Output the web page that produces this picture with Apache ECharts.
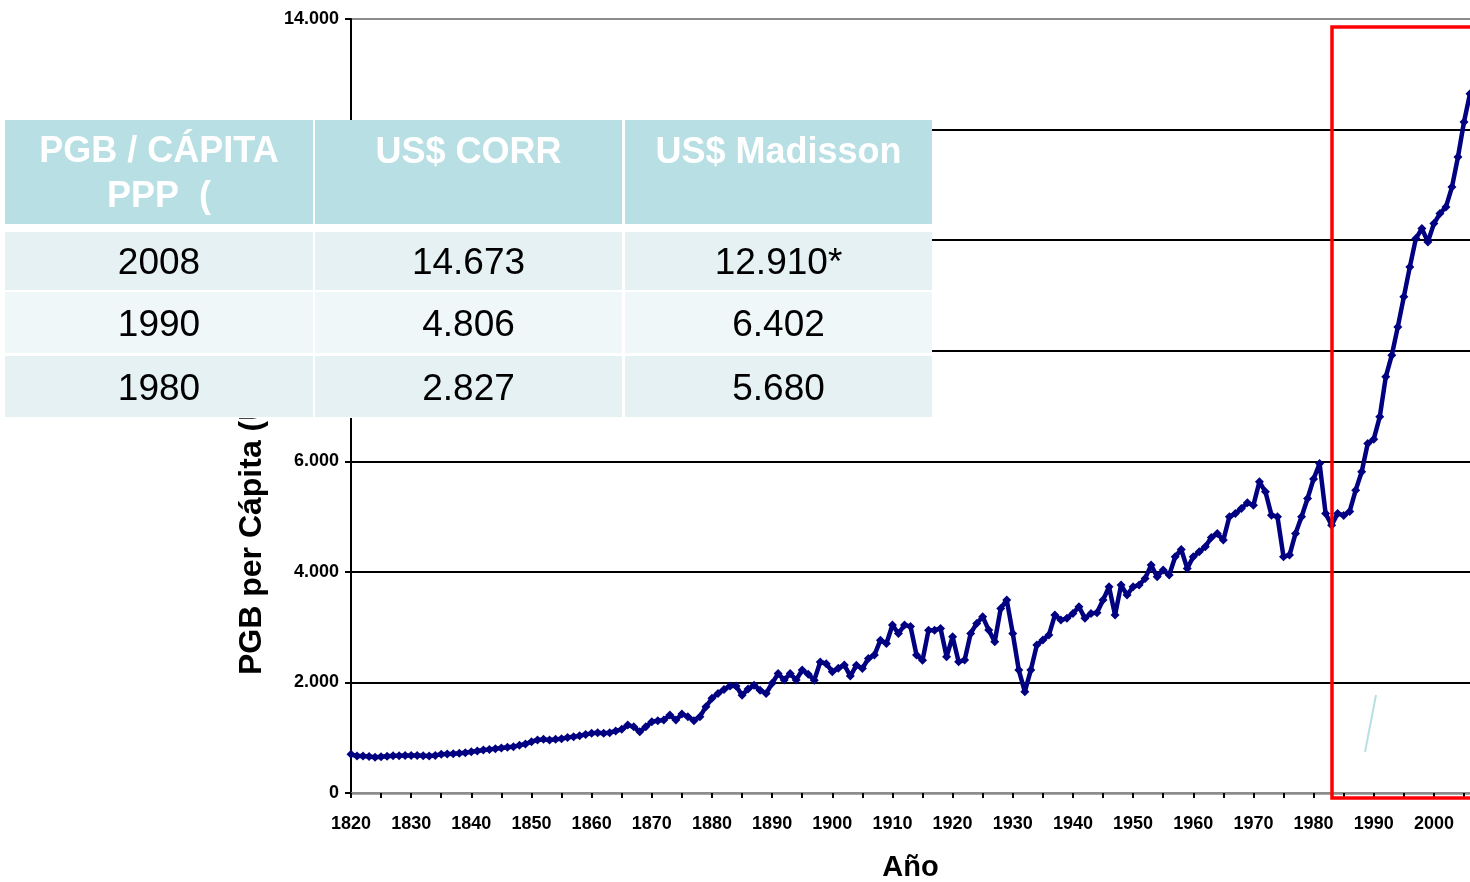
<!DOCTYPE html>
<html>
<head>
<meta charset="utf-8">
<script src="https://cdn.jsdelivr.net/npm/echarts@6.0.0/dist/echarts.min.js"></script>
<style>
html,body{margin:0;padding:0;background:#fff;}
#chart{width:1470px;height:882px;}
</style>
</head>
<body>
<div id="chart"></div>
<script>
var firstYear = 1820;

// PGB per cápita, one value per year 1820-2006
var pgbPerCapita = [
    700, 670, 670, 660, 645, 655, 665, 675, 675, 680,          // 1820
    680, 680, 675, 670, 680, 700, 705, 710, 717, 729,          // 1830
    747, 759, 777, 789, 801, 813, 826, 838, 862, 886,          // 1840
    928, 958, 970, 958, 970, 982, 1006, 1018, 1036, 1060,      // 1850
    1079, 1091, 1079, 1091, 1121, 1151, 1229, 1199, 1109, 1199, // 1860
    1290, 1308, 1320, 1410, 1320, 1428, 1380, 1308, 1380, 1561, // 1870
    1712, 1802, 1874, 1935, 1935, 1770, 1880, 1950, 1860, 1800, // 1880
    1985, 2160, 2045, 2160, 2045, 2225, 2150, 2040, 2370, 2340, // 1890
    2195, 2255, 2315, 2115, 2310, 2250, 2435, 2495, 2765, 2705, // 1900
    3040, 2885, 3040, 3010, 2495, 2400, 2945, 2945, 2975, 2465, // 1910
    2826, 2374, 2404, 2886, 3068, 3189, 2947, 2736, 3339, 3490, // 1920
    2886, 2224, 1832, 2224, 2676, 2766, 2856, 3219, 3128, 3159, // 1930
    3249, 3369, 3159, 3249, 3261, 3490, 3731, 3219, 3761, 3581, // 1940
    3730, 3761, 3881, 4122, 3911, 4032, 3941, 4273, 4405, 4062, // 1950
    4273, 4363, 4454, 4622, 4695, 4574, 4996, 5056, 5147, 5249, // 1960
    5207, 5629, 5448, 5026, 4996, 4273, 4303, 4695, 4996, 5328, // 1970
    5680, 5961, 5056, 4845, 5056, 5020, 5092, 5478, 5810, 6322, // 1980
    6400, 6804, 7527, 7919, 8431, 8974, 9516, 10028, 10209, 9968, // 1990
    10299, 10480, 10601, 10960, 11505, 12137, 12650             // 2000
];

// table over the chart
var tableHeader = ['PGB / CÁPITA\nPPP  (', 'US$ CORR', 'US$ Madisson'];
var tableYears = ['2008', '1990', '1980'];
var usCorr = ['14.673', '4.806', '2.827'];
var usMadisson = ['12.910*', '6.402', '5.680'];

var years = [];
for (var i = 0; i < pgbPerCapita.length; i++) {
    years.push(String(firstYear + i));
}

var font = 'Liberation Sans, Arial, sans-serif';

function thousands(v) {
    return String(v).replace(/\B(?=(\d{3})+(?!\d))/g, '.');
}

// table graphic
var colX = [5, 315, 625];
var colW = [308, 307, 307];
var rowY = [232, 292, 356];
var rowH = [58, 61, 61];
var rowFill = ['#e5f1f3', '#f0f7f9', '#e5f1f3'];

var graphics = [];
graphics.push({
    type: 'text', x: 252, y: 675, rotation: Math.PI / 2, z: 1,
    style: { text: 'PGB per Cápita (US$ de 1990)', fill: '#000', font: 'bold 32px ' + font,
        textAlign: 'left', textVerticalAlign: 'middle' }
});
graphics.push({
    type: 'rect', z: 100, shape: { x: 5, y: 120, width: 927, height: 298 },
    style: { fill: '#ffffff' }
});
for (var c = 0; c < 3; c++) {
    graphics.push({
        type: 'rect', z: 101, shape: { x: colX[c], y: 120, width: colW[c], height: 104 },
        style: { fill: '#b8dfe3' }
    });
    graphics.push({
        type: 'text', z: 102, x: colX[c] + colW[c] / 2, y: c === 0 ? 175 : 153,
        style: { text: tableHeader[c], fill: '#ffffff', font: 'bold 36px ' + font,
            lineHeight: 45, textAlign: 'center', textVerticalAlign: 'middle' }
    });
}
var cols = [tableYears, usCorr, usMadisson];
for (var r = 0; r < 3; r++) {
    for (var c2 = 0; c2 < 3; c2++) {
        graphics.push({
            type: 'rect', z: 101, shape: { x: colX[c2], y: rowY[r], width: colW[c2], height: rowH[r] },
            style: { fill: rowFill[r] }
        });
        graphics.push({
            type: 'text', z: 102, x: colX[c2] + colW[c2] / 2, y: rowY[r] + rowH[r] / 2 + 3,
            style: { text: cols[c2][r], fill: '#000000', font: '37px ' + font,
                textAlign: 'center', textVerticalAlign: 'middle' }
        });
    }
}
// red highlight box and small stroke
graphics.push({
    type: 'rect', z: 50, shape: { x: 1332, y: 27, width: 300, height: 771 },
    style: { fill: 'none', stroke: '#ff0000', lineWidth: 3.5 }
});
graphics.push({
    type: 'line', z: 50, shape: { x1: 1365, y1: 752, x2: 1376, y2: 695 },
    style: { stroke: '#b8dfe3', lineWidth: 2 }
});

var chart = echarts.init(document.getElementById('chart'));

var option = {
    animation: false,
    backgroundColor: '#ffffff',
    grid: { left: 351, right: 0, top: 19, bottom: 89, outerBoundsMode: 'none' },
    xAxis: {
        type: 'category',
        data: years,
        boundaryGap: false,
        name: 'Año',
        nameLocation: 'middle',
        nameGap: 60,
        nameTextStyle: { color: '#000', fontSize: 29, fontWeight: 'bold', fontFamily: font },
        axisLine: { lineStyle: { color: '#8c8c8c', width: 2.5 } },
        axisTick: { interval: 4, length: 5, lineStyle: { color: '#000', width: 2 } },
        axisLabel: { interval: 9, margin: 22, color: '#000', fontSize: 18, fontWeight: 'bold', fontFamily: font },
        splitLine: { show: false }
    },
    yAxis: {
        type: 'value',
        min: 0,
        max: 14000,
        interval: 2000,
        axisLine: { show: true, lineStyle: { color: '#000', width: 2 } },
        axisTick: { show: true, length: 6, lineStyle: { color: '#000', width: 2 } },
        axisLabel: {
            margin: 12, color: '#000', fontSize: 18, fontWeight: 'bold', fontFamily: font,
            formatter: function (v) { return thousands(v); }
        },
        splitLine: {
            lineStyle: {
                color: ['#8c8c8c', '#000', '#000', '#000', '#000', '#000', '#000', '#8c8c8c'],
                width: 2
            }
        }
    },
    series: [{
        name: 'PGB per Cápita',
        type: 'line',
        data: pgbPerCapita,
        symbol: 'diamond',
        symbolSize: 9,
        showAllSymbol: true,
        itemStyle: { color: '#000080' },
        lineStyle: { color: '#000080', width: 4.5 },
        z: 10
    }],
    graphic: { elements: graphics }
};

chart.setOption(option);
</script>
</body>
</html>
